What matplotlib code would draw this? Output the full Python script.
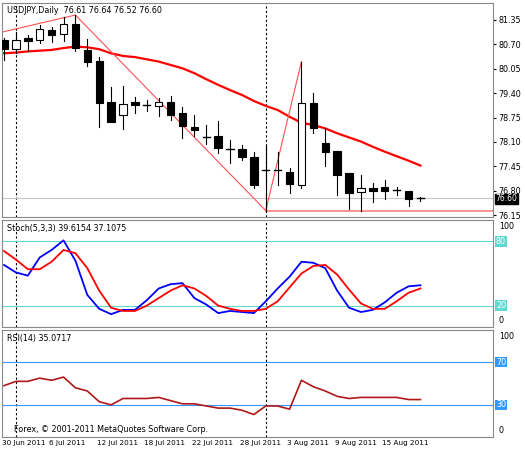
import matplotlib
matplotlib.use("Agg")
import matplotlib.pyplot as plt
from matplotlib.patches import Rectangle

opens  = [80.82,80.58,80.86,80.82,81.08,80.97,81.24,80.55,80.26,79.15,78.82,79.15,79.08,79.06,79.17,78.86,78.51,78.24,78.26,77.91,77.91,77.69,77.36,77.34,77.31,76.94,79.13,78.06,77.86,77.26,76.76,76.86,76.89,76.82,76.80,76.61]
closes = [80.58,80.82,80.80,81.10,80.95,81.24,80.61,80.22,79.13,78.64,79.11,79.08,79.07,79.17,78.82,78.53,78.42,78.24,77.95,77.90,77.71,76.95,77.35,77.33,76.97,79.13,78.46,77.84,77.22,76.75,76.86,76.79,76.79,76.81,76.59,76.60]
highs  = [80.86,81.04,80.95,81.22,81.17,81.42,81.48,80.83,80.37,79.57,79.59,79.29,79.22,79.26,79.32,79.02,78.82,78.55,78.67,78.15,78.02,77.84,78.02,77.84,77.40,80.24,79.39,78.46,77.86,77.26,77.22,77.01,77.08,76.91,76.80,76.64]
lows   = [80.28,80.46,80.53,80.73,80.75,80.80,80.51,80.11,78.51,78.64,78.44,78.88,78.92,78.80,78.68,78.20,78.26,78.04,77.80,77.55,77.62,76.88,76.27,76.95,76.75,76.87,78.33,77.47,76.68,76.31,76.27,76.51,76.57,76.68,76.39,76.52]
ma = [80.46,80.48,80.51,80.53,80.55,80.60,80.64,80.62,80.57,80.46,80.39,80.36,80.30,80.24,80.15,80.06,79.93,79.77,79.62,79.48,79.35,79.19,79.06,78.95,78.77,78.61,78.55,78.46,78.33,78.22,78.11,77.97,77.84,77.72,77.60,77.47]
zz_x = [-0.5, 6, 22, 25]
zz_y = [81.0, 81.48, 76.27, 80.24]
stoch_main = [58,51,48,65,72,81,62,30,17,12,16,16,25,36,40,41,27,21,13,15,14,13,24,36,47,61,60,55,34,18,14,16,23,32,38,39]
stoch_sig  = [71,63,54,54,61,72,69,55,34,18,15,15,20,27,34,39,36,29,20,17,15,15,17,24,37,50,57,58,49,35,22,17,17,24,32,36]
rsi = [48,52,52,55,53,56,46,43,33,30,36,36,36,37,34,31,31,29,27,27,25,21,29,29,26,53,47,43,38,36,37,37,37,37,35,35]
date_labels = ["30 Jun 2011","6 Jul 2011","12 Jul 2011","18 Jul 2011","22 Jul 2011","28 Jul 2011","3 Aug 2011","9 Aug 2011","15 Aug 2011"]
date_pos = [-0.2,3.8,7.8,11.8,15.8,19.8,23.8,27.8,31.8]
price_ticks = [81.35,80.70,80.05,79.40,78.75,78.10,77.45,76.80,76.15]

W, H = 525, 450
fig = plt.figure(figsize=(W/100, H/100), dpi=100)
fs = 5.8
def mk(top, bot):
    return fig.add_axes([2/W, 1-bot/H, 491/W, (bot-top)/H])
ax = mk(3, 217); ax2 = mk(220, 327); ax3 = mk(330, 437)
xl = (-0.17, 41.1)
n = len(opens)
x = list(range(n))
for a in (ax, ax2, ax3):
    a.set_xlim(*xl)
    a.set_xticks([])
    a.yaxis.tick_right()
    a.tick_params(axis='y', labelsize=fs, length=2, pad=2)
    for s in a.spines.values():
        s.set_color('#888888'); s.set_linewidth(0.8)
    for vx in (1, 22):
        a.axvline(vx, color='black', ls=(0, (2, 2)), lw=0.8)

# main panel
ax.set_ylim(76.10, 81.80)
ax.set_yticks(price_ticks)
ax.set_yticklabels([f"{p:.2f}" for p in price_ticks])
ax.axhline(76.60, color='#c8c8c8', lw=0.8)
ax.plot(x, ma, color='red', lw=1.6, zorder=2)
ax.plot(zz_x, zz_y, color='#ff5050', lw=0.8, zorder=2)
ax.plot([22, 41.1], [76.27, 76.27], color='#ff8080', lw=1.2, zorder=2)
bw = 0.62
for i in x:
    o, c, h, l = opens[i], closes[i], highs[i], lows[i]
    ax.plot([i, i], [l, h], color='black', lw=0.8, zorder=3)
    lo, hi = min(o, c), max(o, c)
    if hi - lo < 0.02:
        ax.plot([i-bw/2, i+bw/2], [o, o], color='black', lw=1, zorder=4)
    else:
        ax.add_patch(Rectangle((i-bw/2, lo), bw, hi-lo, facecolor='black' if c < o else 'white',
                               edgecolor='black', lw=0.8, zorder=4))
ax.text(0.01, 0.985, "USDJPY,Daily  76.61 76.64 76.52 76.60", transform=ax.transAxes,
        fontsize=fs, va='top', ha='left')
ax.text(1.005, (76.58-76.10)/(81.80-76.10), "76.60", transform=ax.transAxes, fontsize=5.5,
        color='white', va='center', ha='left',
        bbox=dict(boxstyle='square,pad=0.08', fc='black', ec='black'))

def side_labels(a, levels, col):
    a.set_ylim(0, 100)
    a.set_yticks([])
    a.text(1.012, 0.985, "100", transform=a.transAxes, fontsize=fs, va='top', ha='left')
    a.text(1.012, 0.015, "0", transform=a.transAxes, fontsize=fs, va='bottom', ha='left')
    for lv in levels:
        a.axhline(lv, color=col, lw=0.8)
        a.text(1.006, lv/100, str(lv), transform=a.transAxes, fontsize=fs, va='center', ha='left',
               color='white', bbox=dict(boxstyle='square,pad=0.1', fc=col, ec='none'))

side_labels(ax2, (20, 80), '#5fd8d0')
ax2.plot(x, stoch_main, color='#0000ff', lw=1.3)
ax2.plot(x, stoch_sig, color='#ff0000', lw=1.3)
ax2.text(0.01, 0.96, "Stoch(5,3,3) 39.6154 37.1075", transform=ax2.transAxes, fontsize=fs, va='top')

side_labels(ax3, (30, 70), '#3399ff')
ax3.plot(x, rsi, color='#b01818', lw=1.2)
ax3.text(0.01, 0.96, "RSI(14) 35.0717", transform=ax3.transAxes, fontsize=fs, va='top')
ax3.text(0.025, 0.03, "Forex, © 2001-2011 MetaQuotes Software Corp.", transform=ax3.transAxes,
         fontsize=fs, va='bottom')
for p, lab in zip(date_pos, date_labels):
    ax3.text(p, -3, lab, fontsize=5.2, ha='left', va='top', clip_on=False)

fig.savefig("out.png", dpi=100, facecolor='white')
